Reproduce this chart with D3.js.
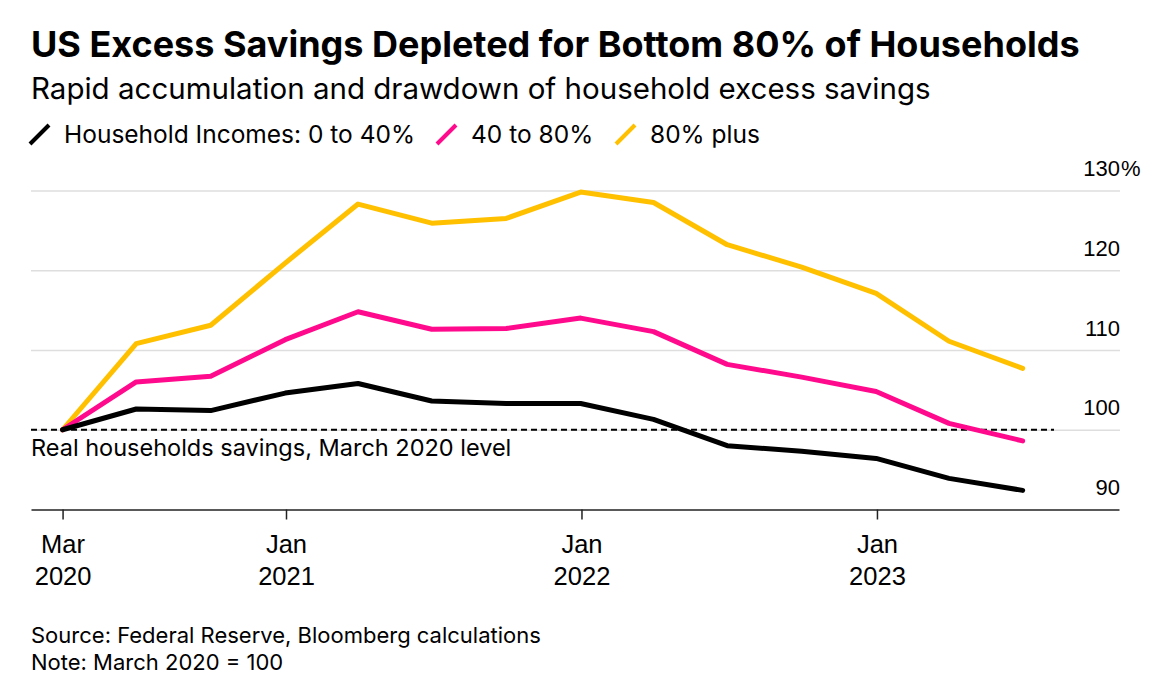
<!DOCTYPE html>
<html>
<head>
<meta charset="utf-8">
<script src="https://cdn.jsdelivr.net/npm/d3@7"></script>
<style>
  body { margin: 0; background: #fff; }
  svg { font-family: Inter, "Liberation Sans", Arial, sans-serif; }
</style>
</head>
<body>
<svg id="chart" width="1175" height="689"></svg>
<script>
// quarterly data, March 2020 = 100
const dates = ["2020-03-31", "2020-06-30", "2020-09-30", "2020-12-31",
  "2021-03-31", "2021-06-30", "2021-09-30", "2021-12-31",
  "2022-03-31", "2022-06-30", "2022-09-30", "2022-12-31",
  "2023-03-31", "2023-06-30"];
const bottom40 = [100, 102.6, 102.4, 104.6, 105.8, 103.6, 103.3, 103.3, 101.3, 98.0, 97.3, 96.4, 93.9, 92.4];
const middle40 = [100, 106.0, 106.7, 111.3, 114.8, 112.6, 112.7, 114.0, 112.3, 108.2, 106.6, 104.8, 100.8, 98.6];
const top20 = [100, 110.8, 113.1, 120.9, 128.3, 125.9, 126.5, 129.8, 128.5, 123.2, 120.4, 117.1, 111.1, 107.7];

const seriesNames = ["Household Incomes: 0 to 40%", "40 to 80%", "80% plus"];
const seriesColors = ["#000000", "#ff0a8c", "#ffc000"];
const yTicks = [90, 100, 110, 120, 130];
const xTicks = ["2020-03-31", "2021-01-01", "2022-01-01", "2023-01-01"];
const baseLabel = "Real households savings, March 2020 level";

const parse = d3.timeParse("%Y-%m-%d");
const svg = d3.select('#chart');

const x = d3.scaleTime()
  .domain([parse("2020-02-21"), parse("2023-10-27")])
  .range([31, 1119]);
const y = d3.scaleLinear()
  .domain([90, 130])
  .range([509.5, 190.5]);

// title block
svg.append('text')
  .attr('x', 31).attr('y', 57)
  .attr('font-size', 36).attr('font-weight', 'bold')
  .text('US Excess Savings Depleted for Bottom 80% of Households');
svg.append('text')
  .attr('x', 31).attr('y', 99)
  .attr('font-size', 29.5)
  .text('Rapid accumulation and drawdown of household excess savings');

// legend
const legend = svg.append('g');
const legendX = [30, 437, 616];
seriesNames.forEach((name, i) => {
  const g = legend.append('g').attr('transform', `translate(${legendX[i]},0)`);
  g.append('line')
    .attr('x1', 0).attr('y1', 144).attr('x2', 19).attr('y2', 125)
    .attr('stroke', seriesColors[i]).attr('stroke-width', 4);
  g.append('text')
    .attr('x', 34).attr('y', 143)
    .attr('font-size', 24.5)
    .text(name);
});

// gridlines + y labels
const grid = svg.append('g')
  .attr('transform', 'translate(1120,0)')
  .call(d3.axisLeft(y).tickValues(yTicks.slice(1)).tickSize(1120 - 31).tickFormat(''));
grid.select('.domain').remove();
grid.selectAll('line').attr('stroke', '#dedede').attr('stroke-width', 1.5);

const yLab = svg.append('g')
  .attr('transform', 'translate(1120,0)')
  .call(d3.axisLeft(y).tickValues(yTicks).tickSize(0).tickPadding(0).tickFormat(d3.format('d')));
yLab.select('.domain').remove();
yLab.selectAll('text')
  .attr('font-size', 22).attr('font-family', null)
  .attr('fill', '#000')
  .attr('dy', -15);
yLab.selectAll('.tick')
  .filter(d => d === d3.max(yTicks))
  .append('text')
  .attr('x', 1).attr('dy', -15)
  .attr('font-size', 22).attr('fill', '#000')
  .attr('text-anchor', 'start')
  .text('%');

// x axis
const xAxis = svg.append('g')
  .attr('transform', `translate(0,${y(90)})`)
  .call(d3.axisBottom(x).tickValues(xTicks.map(parse)).tickSize(10).tickSizeOuter(0).tickFormat(''));
xAxis.select('.domain').attr('stroke', '#222').attr('stroke-width', 1.5);
xAxis.selectAll('line').attr('stroke', '#222').attr('stroke-width', 1.5);
xAxis.selectAll('.tick').each(function(d) {
  const t = d3.select(this).append('text')
    .attr('fill', '#000').attr('font-size', 25.5).attr('text-anchor', 'middle');
  t.append('tspan').attr('x', 0).attr('y', 43).text(d3.timeFormat('%b')(d));
  t.append('tspan').attr('x', 0).attr('y', 75).text(d3.timeFormat('%Y')(d));
});

// baseline
svg.append('line')
  .attr('x1', 31).attr('x2', 1054)
  .attr('y1', y(100)).attr('y2', y(100))
  .attr('stroke', '#000').attr('stroke-width', 2)
  .attr('stroke-dasharray', '6,4');
svg.append('text')
  .attr('x', 31).attr('y', y(100) + 26)
  .attr('font-size', 23.5)
  .text(baseLabel);

// lines
const line = d3.line()
  .x((d, i) => x(parse(dates[i])))
  .y(d => y(d));
[top20, middle40, bottom40].forEach((vals, k) => {
  svg.append('path')
    .datum(vals)
    .attr('fill', 'none')
    .attr('stroke', seriesColors[2 - k])
    .attr('stroke-width', 5)
    .attr('stroke-linejoin', 'round')
    .attr('stroke-linecap', 'round')
    .attr('d', line);
});

// footer
svg.append('text')
  .attr('x', 31).attr('y', 643)
  .attr('font-size', 22)
  .text('Source: Federal Reserve, Bloomberg calculations');
svg.append('text')
  .attr('x', 31).attr('y', 670)
  .attr('font-size', 22)
  .text('Note: March 2020 = 100');
</script>
</body>
</html>
